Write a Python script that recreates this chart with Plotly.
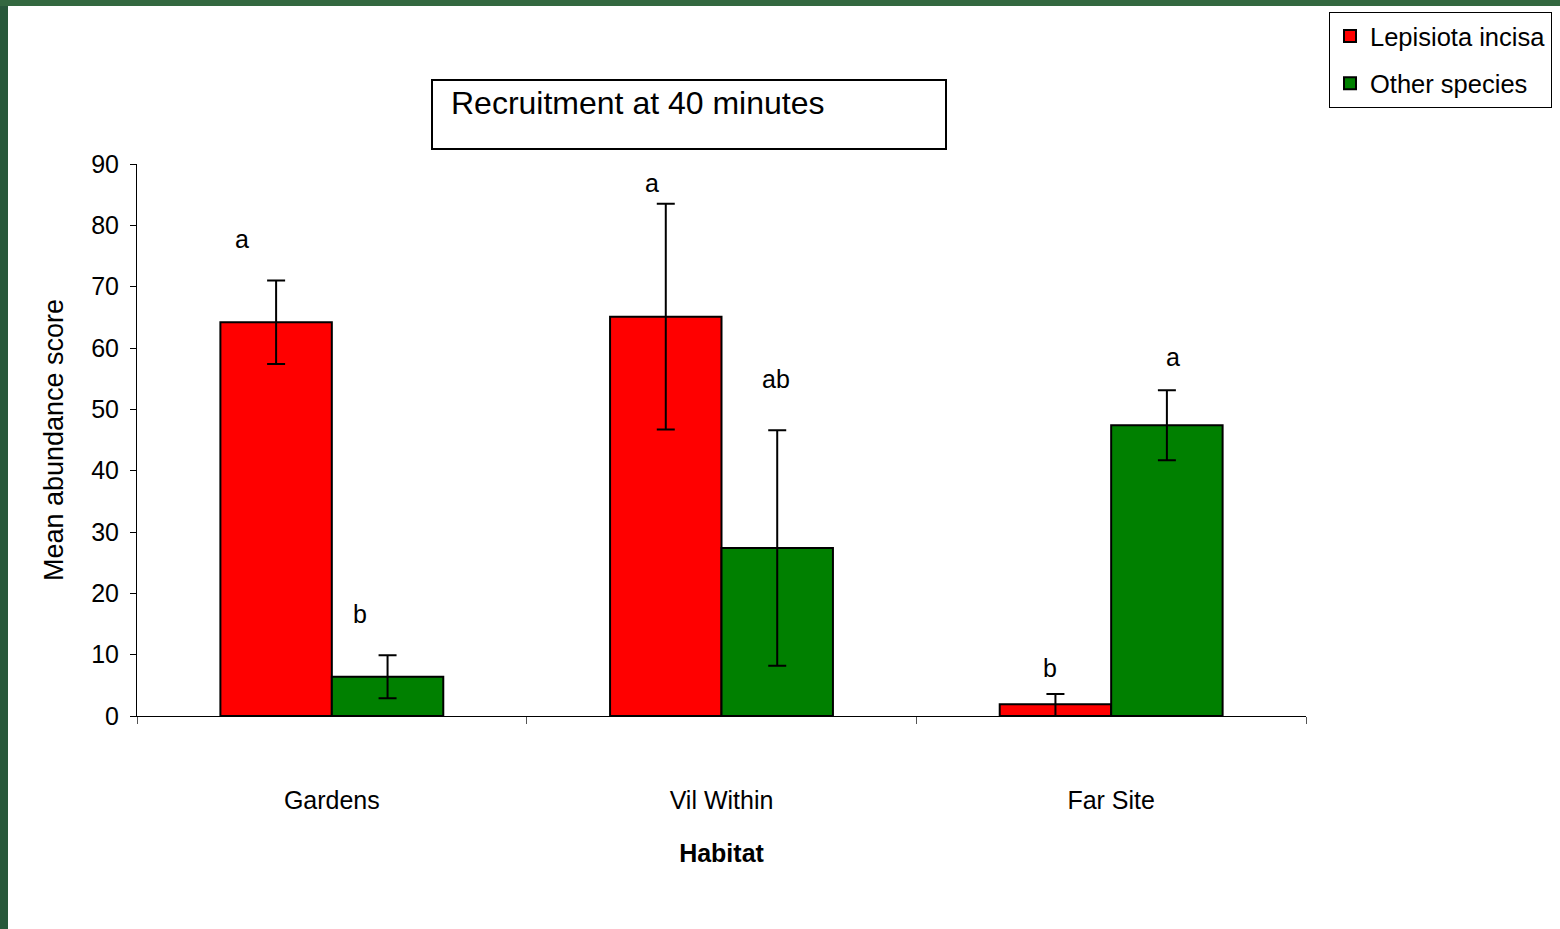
import plotly.graph_objects as go

# ---- data ----
habitats = ["Gardens", "Vil Within", "Far Site"]
lepisiota = [64.2, 65.1, 1.9]
lepisiota_err_plus = [6.8, 18.4, 1.7]
lepisiota_err_minus = [6.8, 18.4, 1.9]
other = [6.4, 27.4, 47.4]
other_err = [3.5, 19.2, 5.7]

# significance letters: (text, x position on category axis, y value)
letters_text = ["a", "b", "a", "ab", "b", "a"]
letters_x = [-0.23, 0.072, 0.822, 1.14, 1.843, 2.159]
letters_y = [77.85, 16.6, 86.95, 54.95, 7.8, 58.5]

y_ticks = [0, 10, 20, 30, 40, 50, 60, 70, 80, 90]

FONT = "Liberation Sans, Arial, sans-serif"
W, H = 1560, 929
L, R, T, B = 137, 1306, 164, 716
pw, ph = R - L, B - T


def px_x(p):
    return (p - L) / pw


def px_y(p):
    return (B - p) / ph


xpos = list(range(len(habitats)))

fig = go.Figure()
fig.add_trace(go.Bar(
    x=xpos, y=lepisiota, name="Lepisiota incisa", legendgroup="g1",
    marker=dict(color="#ff0000", line=dict(color="black", width=2)),
    error_y=dict(type="data", symmetric=False, array=lepisiota_err_plus,
                 arrayminus=lepisiota_err_minus, visible=True,
                 color="black", thickness=2, width=9),
))
fig.add_trace(go.Bar(
    x=xpos, y=other, name="Other species", legendgroup="g2",
    marker=dict(color="#008000", line=dict(color="black", width=2)),
    error_y=dict(type="data", array=other_err, visible=True,
                 color="black", thickness=2, width=9),
))

annotations = []
for t, x, y in zip(letters_text, letters_x, letters_y):
    annotations.append(dict(x=x, y=y, xref="x", yref="y", text=t,
                            showarrow=False, xanchor="center", yanchor="middle",
                            font=dict(family=FONT, size=25, color="black")))

shapes = [
    # title box
    dict(type="rect", xref="paper", yref="paper",
         x0=px_x(432), x1=px_x(946), y0=px_y(149), y1=px_y(80),
         line=dict(color="black", width=2), fillcolor="white", layer="below"),
    # green slide border (left and top)
    dict(type="rect", xref="paper", yref="paper",
         x0=px_x(0), x1=px_x(8), y0=px_y(H + 5), y1=px_y(-5),
         line=dict(width=0), fillcolor="#27583a", layer="above"),
    dict(type="rect", xref="paper", yref="paper",
         x0=px_x(0), x1=px_x(W + 5), y0=px_y(6), y1=px_y(-5),
         line=dict(width=0), fillcolor="#336840", layer="above"),
]

fig.update_layout(
    width=W, height=H,
    margin=dict(l=L, r=W - R, t=T, b=H - B, autoexpand=False),
    paper_bgcolor="white", plot_bgcolor="white",
    font=dict(family=FONT, size=25, color="black"),
    barmode="group", bargap=0.428, bargroupgap=0,
    title=dict(text="Recruitment at 40 minutes", xref="paper", x=px_x(451),
               xanchor="left", yref="container", y=1 - 103 / H, yanchor="middle",
               font=dict(family=FONT, size=32, color="black")),
    showlegend=True,
    legend=dict(x=px_x(1329), y=px_y(12), xanchor="left", yanchor="top",
                bordercolor="black", borderwidth=1, bgcolor="white",
                font=dict(family=FONT, size=25.5, color="black"),
                itemwidth=30,
                traceorder="grouped", tracegroupgap=11),
    xaxis=dict(range=[-0.5, 2.5], tickmode="array", tickvals=xpos,
               ticktext=habitats, ticks="", showgrid=False, zeroline=False,
               showline=True, linecolor="black", linewidth=1,
               ticklabelstandoff=62, tickfont=dict(size=25),
               minor=dict(tickmode="array", tickvals=[-0.5, 0.5, 1.5, 2.5],
                          ticks="outside", ticklen=7, tickcolor="#555555",
                          tickwidth=1, showgrid=False),
               title=dict(text="<b>Habitat</b>", standoff=31,
                          font=dict(size=25)),
               fixedrange=True),
    yaxis=dict(range=[0, 90], tickmode="array", tickvals=y_ticks,
               ticks="outside", ticklen=6, tickcolor="black", tickwidth=1,
               showline=True, linecolor="black", linewidth=1,
               showgrid=False, zeroline=False, ticklabelstandoff=6,
               tickfont=dict(size=25),
               title=dict(text="Mean abundance score", standoff=19,
                          font=dict(size=27)),
               fixedrange=True),
    annotations=annotations,
    shapes=shapes,
)

fig.write_html("out.html", config={"displayModeBar": False},
               post_script="document.body.style.margin='0';")
